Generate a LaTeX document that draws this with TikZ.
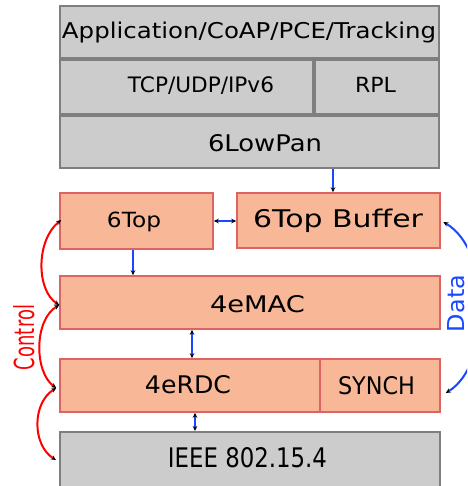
\documentclass[tikz,border=0pt]{standalone}
\usepackage{fontspec}
\setmainfont{DejaVu Sans}
\usepackage{graphicx}
\usetikzlibrary{arrows.meta,calc}
\definecolor{gfill}{HTML}{CCCCCC}
\definecolor{gline}{HTML}{7F7F7F}
\definecolor{sfill}{HTML}{F8B898}
\definecolor{sline}{HTML}{DD6464}
\definecolor{lblue}{HTML}{1848FF}
\definecolor{lred}{HTML}{FF0000}
\newcommand\fitT[3]{\resizebox{#1pt}{#2pt}{#3}}
\begin{document}
\begin{tikzpicture}[x=1pt,y=-1pt,
  >={Stealth[length=5pt,width=4.5pt,color=black]},
  gbox/.style={draw=gline,line width=2pt,fill=gfill,inner sep=0pt},
  sbox/.style={draw=sline,line width=1.5pt,fill=sfill,inner sep=0pt},
  txt/.style={inner sep=0pt,anchor=base},
  barrow/.style={draw=lblue,line width=1.5pt,->},
  bbarrow/.style={draw=lblue,line width=1.5pt,<->},
  carc/.style={draw=lred,line width=2pt,<->},
  darc/.style={draw=lblue,line width=2pt,<->}]
\useasboundingbox (0,0) rectangle (467,486);
\clip (0,0) rectangle (467,486);
\fill[white] (0,0) rectangle (467,486);
% boxes
\node[gbox,minimum width=379pt,minimum height=52pt] (app) at (249.5,32) {};
\node[gbox,minimum width=253pt,minimum height=54pt] (tcp) at (186.5,87) {};
\node[gbox,minimum width=124pt,minimum height=54pt] (rpl) at (377,87) {};
\node[gbox,minimum width=379pt,minimum height=52pt] (lowpan) at (249.5,142) {};
\node[sbox,minimum width=153pt,minimum height=56pt] (sixtop) at (136.5,221) {};
\node[sbox,minimum width=203pt,minimum height=55pt] (buffer) at (338.5,220.5) {};
\node[sbox,minimum width=380pt,minimum height=53pt] (emac) at (250,302.5) {};
\node[sbox,minimum width=260pt,minimum height=53pt] (rdc) at (190,385.5) {};
\node[sbox,minimum width=120pt,minimum height=53pt] (synch) at (380,385.5) {};
\node[gbox,minimum width=380pt,minimum height=73pt] (ieee) at (250,468.5) {};
% texts
\node[txt] (appT) at (249,38.5) {\fitT{374}{16.5}{Application/CoAP/PCE/Tracking}};
\node[txt] (tcpT) at (201,93) {\fitT{146}{15.8}{TCP/UDP/IPv6}};
\node[txt] (rplT) at (375.5,93) {\fitT{41}{15.2}{RPL}};
\node[txt] (lowpanT) at (265,152) {\fitT{114}{17}{6LowPan}};
\node[txt] (sixtopT) at (134,227) {\fitT{54}{15.5}{6Top}};
\node[txt] (bufferT) at (338,227) {\fitT{170}{18.5}{6Top Buffer}};
\node[txt] (emacT) at (257.5,312) {\fitT{95}{17}{4eMAC}};
\node[txt] (rdcT) at (188,393) {\fitT{86}{18}{4eRDC}};
\node[txt] (synchT) at (376.5,394) {\fitT{77}{18}{SYNCH}};
\node[txt] (ieeeT) at (247.5,467) {\fitT{159}{20}{IEEE 802.15.4}};
\node[txt,rotate=90,text=lred] (ctrlT) at (34,337.5) {\fitT{65}{21}{Control}};
\node[txt,rotate=90,text=lblue] (dataT) at (464,303.5) {\fitT{57}{17}{Data}};
% short arrows
\draw[barrow] (333,0 |- lowpan.south) -- (333,0 |- buffer.north);
\draw[bbarrow,line width=2pt] (sixtop.east) -- (sixtop.east -| buffer.west);
\draw[barrow] (133,0 |- sixtop.south) -- (133,0 |- emac.north);
\draw[bbarrow] (192,0 |- emac.south) -- (192,0 |- rdc.north);
\draw[bbarrow] (195,0 |- rdc.south) -- (195,0 |- ieee.north);
% control arcs
\coordinate (c1) at ($(sixtop.west)+(2,-1)$);
\coordinate (c2) at ($(emac.west)+(0,2.5)$);
\coordinate (c3) at ($(rdc.west)+(-3,2.5)$);
\coordinate (c4) at ($(ieee.west)+(-3,-8.5)$);
\draw[carc] (c1) .. controls (36,240) and (36,290) .. (c2);
\draw[carc] (c2) .. controls (34,320) and (34,372) .. (c3);
\draw[carc] (c3) .. controls (32,403) and (32,445) .. (c4);
% data arc
\coordinate (d1) at ($(buffer.east)+(2.5,1.5)$);
\coordinate (d2) at ($(synch.east)+(5,7.5)$);
\draw[darc] (d1) .. controls (492,250) and (492,365) .. (d2);
\end{tikzpicture}
\end{document}
